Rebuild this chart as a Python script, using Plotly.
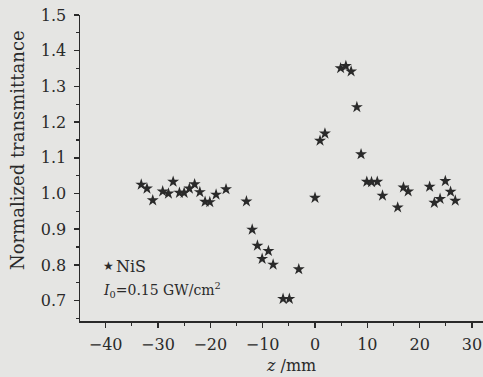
import plotly.graph_objects as go

z_mm = [-33.2, -32.1, -31.0, -29.1, -28.0, -27.1, -25.9, -25.0, -24.0, -23.0,
        -22.0, -21.0, -20.1, -18.9, -17.0, -13.1, -12.0, -11.0, -10.1, -8.9,
        -8.0, -6.1, -4.9, -3.1, 0.0, 0.96, 1.9, 4.9, 5.9, 6.9,
        8.0, 8.8, 9.9, 10.8, 11.9, 12.9, 15.8, 16.9, 17.8, 21.9,
        22.8, 23.9, 24.9, 25.9, 26.8]
transmittance = [1.025, 1.014, 0.981, 1.006, 1.000, 1.033, 1.002, 1.002, 1.014, 1.026,
                 1.004, 0.977, 0.976, 0.997, 1.012, 0.978, 0.899, 0.854, 0.817, 0.839,
                 0.801, 0.705, 0.705, 0.788, 0.988, 1.148, 1.168, 1.351, 1.357, 1.342,
                 1.242, 1.110, 1.033, 1.032, 1.033, 0.994, 0.961, 1.017, 1.006, 1.019,
                 0.974, 0.985, 1.035, 1.005, 0.980]

x_ticks = [-40, -30, -20, -10, 0, 10, 20, 30]
y_ticks = [0.7, 0.8, 0.9, 1.0, 1.1, 1.2, 1.3, 1.4, 1.5]
y_tick_text = ["0.7", "0.8", "0.9", "1.0", "1.1", "1.2", "1.3", "1.4", "1.5"]

BG = "#e5e5e3"
INK = "#2a2a2a"
SERIF = "DejaVu Serif"

fig = go.Figure()
fig.add_trace(go.Scatter(
    x=z_mm, y=transmittance, mode="markers", name="NiS",
    marker=dict(symbol="star", size=9, color=INK, line=dict(width=0)),
    showlegend=False, hoverinfo="skip",
))

W, H = 483, 377
L, R, T, B = 80, 0, 15, 56
pw, ph = W - L - R, H - T - B

def px(xp):
    return (xp - L) / pw

def py(yp):
    return (H - B - yp) / ph

fig.update_layout(
    width=W, height=H,
    margin=dict(l=L, r=R, t=T, b=B, pad=0),
    paper_bgcolor=BG, plot_bgcolor=BG,
    font=dict(family=SERIF, size=16, color=INK),
    xaxis=dict(
        range=[-44.9, 32.1], tickvals=x_ticks, showgrid=False, zeroline=False,
        showline=True, linecolor=INK, linewidth=1.5,
        ticks="outside", ticklen=5, tickwidth=1.5, tickcolor=INK,
        ticklabelstandoff=3, ticklabeloverflow="allow",
        minor=dict(dtick=5, ticks="outside", ticklen=3, tickwidth=1.2, tickcolor=INK, showgrid=False),
        tickfont=dict(family=SERIF, size=16, color=INK),
    ),
    yaxis=dict(
        range=[0.643, 1.5], tickvals=y_ticks, ticktext=y_tick_text,
        showgrid=False, zeroline=False,
        showline=True, linecolor=INK, linewidth=1.5,
        ticks="outside", ticklen=5, tickwidth=1.5, tickcolor=INK,
        ticklabelstandoff=4, ticklabeloverflow="allow",
        minor=dict(dtick=0.05, ticks="outside", ticklen=3, tickwidth=1.2, tickcolor=INK, showgrid=False),
        tickfont=dict(family=SERIF, size=16, color=INK),
    ),
    annotations=[
        dict(text="Normalized transmittance", xref="paper", yref="paper",
             x=px(17), y=py(150), textangle=-90, showarrow=False,
             xanchor="center", yanchor="middle",
             font=dict(family=SERIF, size=18, color=INK)),
        dict(text="<i>z</i> /mm", xref="paper", yref="paper",
             x=px(291), y=py(365), showarrow=False,
             xanchor="center", yanchor="middle",
             font=dict(family=SERIF, size=16, color=INK)),
        dict(text="★", xref="paper", yref="paper",
             x=px(108), y=py(266), showarrow=False,
             xanchor="center", yanchor="middle",
             font=dict(family="DejaVu Sans", size=12, color=INK)),
        dict(text="NiS", xref="paper", yref="paper",
             x=px(114), y=py(266), showarrow=False,
             xanchor="left", yanchor="middle",
             font=dict(family=SERIF, size=16, color=INK)),
        dict(text="<i>I</i><sub>0</sub>=0.15 GW/cm<sup>2</sup>", xref="paper", yref="paper",
             x=px(101), y=py(290), showarrow=False,
             xanchor="left", yanchor="middle",
             font=dict(family=SERIF, size=14, color=INK)),
    ],
)

page_js = (
    "document.body.style.margin='0';"
    "document.body.style.padding='0';"
    "document.body.style.overflow='hidden';"
    "document.body.style.background='" + BG + "';"
)
fig.write_html("out.html", post_script=page_js,
               config={"displayModeBar": False, "staticPlot": True})
